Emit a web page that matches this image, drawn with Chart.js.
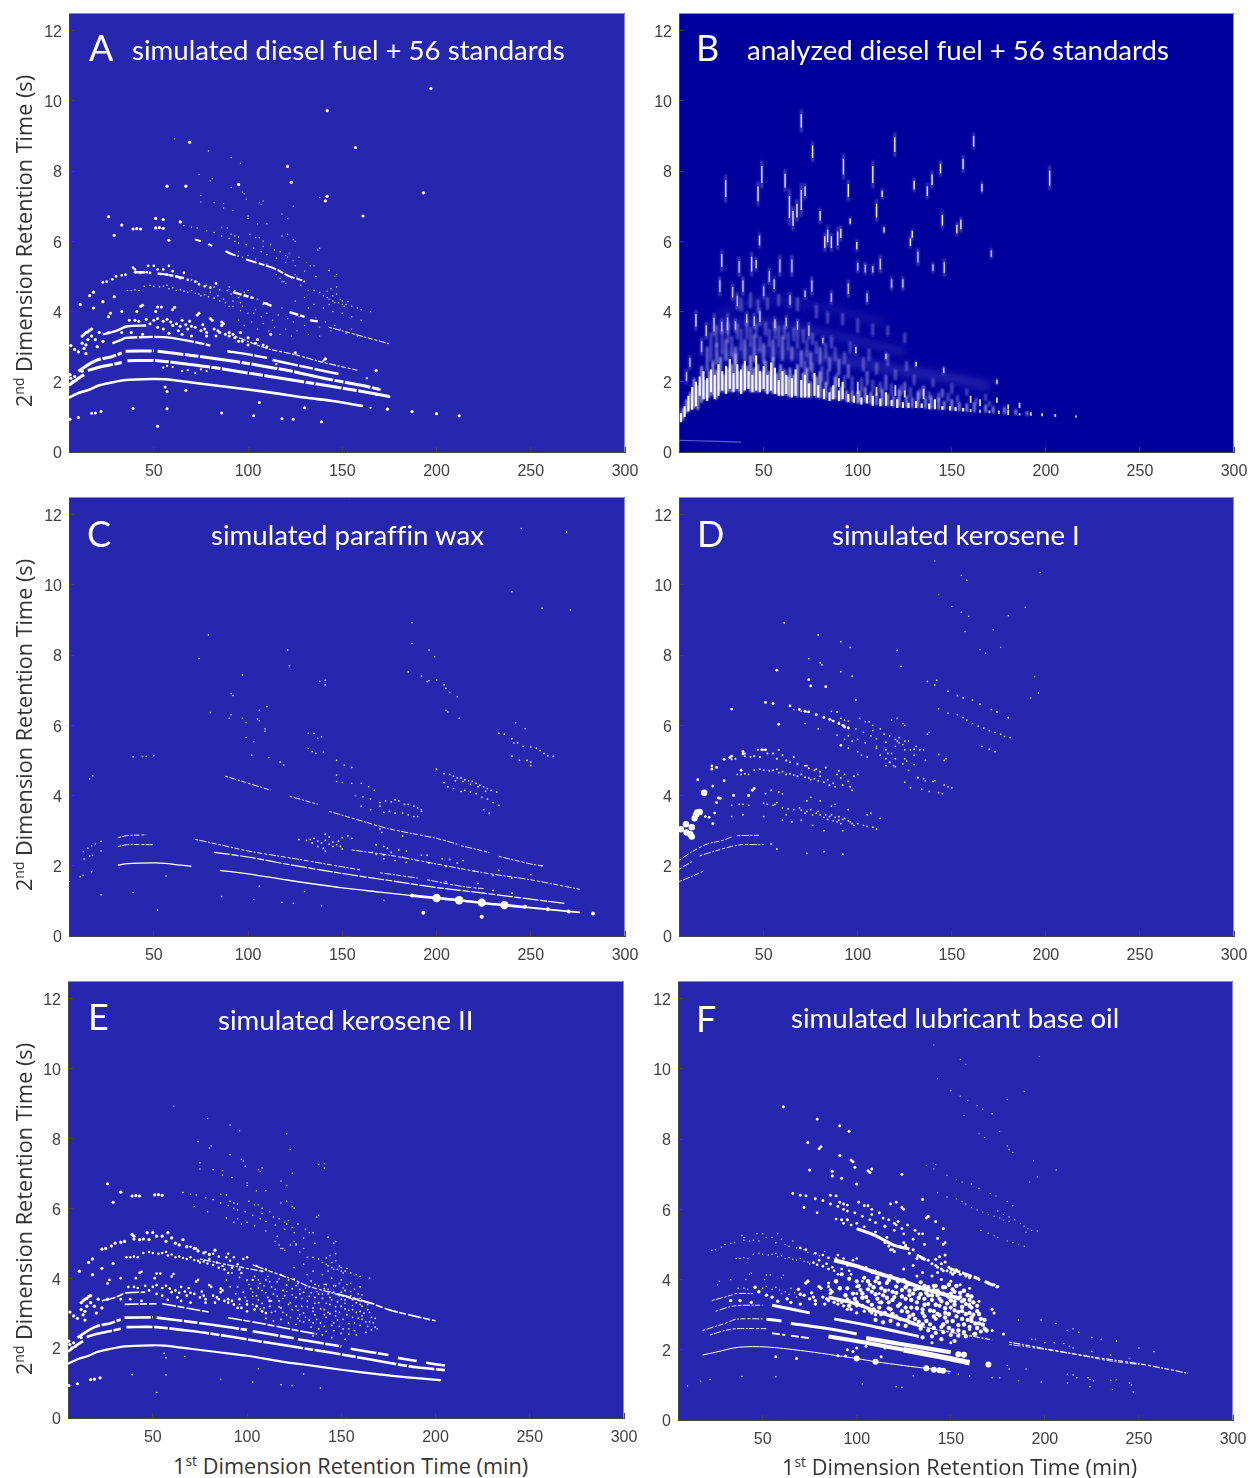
<!DOCTYPE html>
<html><head><meta charset="utf-8">
<script src="https://cdn.jsdelivr.net/npm/chart.js@4"></script>
<style>
html,body{margin:0;padding:0;background:#fff;width:1251px;height:1478px;overflow:hidden}
canvas{position:absolute}
.t{position:absolute;color:#fff;font-family:Lato,sans-serif;white-space:nowrap;line-height:1;font-variant-ligatures:none}
.ax{position:absolute;color:#333;font-family:"Open Sans",sans-serif;font-size:21.7px;white-space:nowrap;line-height:1}
.ax sup{font-size:14px;vertical-align:baseline;position:relative;top:-8px}
</style></head><body>
<script>
const xTicks=[50,100,150,200,250,300];
const yTicks=[0,2,4,6,8,10,12];
const panelLetters=["A","B","C","D","E","F"];
const panelTitles=["simulated diesel fuel + 56 standards","analyzed diesel fuel + 56 standards","simulated paraffin wax","simulated kerosene I","simulated kerosene II","simulated lubricant base oil"];
const yAxisTitle=["2","nd"," Dimension Retention Time (s)"];
const xAxisTitle=["1","st"," Dimension Retention Time (min)"];

// ---- shared point groups (x min, y s)
const sparseTop=[[61,8.92],[79,8.57],[91,8.38],[96,8.22],[74,7.9],[81,7.78],[80,7.72],[91,7.53],[97,7.4],[98,7.35],[75,7.3],[75,7.12],[99,7.2],[82,7.1],[87,7.08],[87,6.95],[92,6.88],[100,6.72],[100,6.65],[106,7.1],[108,7.15],[107,7.05],[121,8.13],[123,7.68],[124,7.0],[121,6.65],[118,6.78],[138,7.25],[141,7.28],[141,7.15],[105,6.5],[110,6.5]];
const ridge=[[66,6.45],[70,6.4],[73,6.38],[78,6.3],[82,6.25],[86,6.15],[90,6.08],[93,6.0],[95,5.95],[99,5.9],[103,5.8],[107,5.7],[110,5.62],[115,5.52],[120,5.4],[125,5.3],[130,5.15],[136,5.0],[86,6.4],[89,6.38],[91,6.2],[93,6.15],[95,6.12],[101,6.2],[104,6.1],[106,6.1],[108,6.0],[108,5.85],[112,5.9],[114,5.75],[117,5.7],[120,5.6],[121,5.55],[122,5.65],[124,5.45],[127,5.55],[118,6.15],[121,6.2],[124,6.05],[125,6.0],[131,5.4],[133,5.3],[135,5.3],[137,5.75],[138,5.8],[147,5.05],[146,5.0],[143,5.17],[95,5.7],[100,5.6],[104,5.5],[110,5.35],[116,5.2],[125,5.05],[89,5.72],[93,5.6],[97,5.55],[72,6.05],[79,5.9],[126,4.98],[119,4.85],[117,4.95],[115,5.05]];
const ridgeLow=[[118,4.85],[120,4.8],[123,4.95],[126,4.95],[130,4.85],[128,4.75],[132,4.6],[135,4.6],[138,4.55],[140,4.45],[142,4.4],[143,4.35],[145,4.3],[148,4.25],[150,4.2],[152,4.2],[155,4.15],[158,4.1],[160,4.05],[165,4.0],[147,4.7],[147,4.5],[145,4.45],[150,4.3],[135,4.2],[140,4.1],[145,4.0],[150,3.95],[155,3.85],[160,3.75],[125,4.3],[130,4.4],[132,4.1],[142,4.58],[144,4.65],[146,4.25],[149,4.35],[151,4.15],[153,4.28],[143,4.2]];
const band5=[[23,4.83],[25,4.85],[28,4.92],[30,5],[33,5.03],[35,5.05],[39,5.25],[40,5.2],[40,5.12],[43,5.1],[45,5.12],[47,5.3],[50,5.3],[48,5.1],[52,5.2],[55,5.2],[57,5.05],[60,5.15],[62,5],[66,5.1],[68,4.9],[72,4.85],[58,5.3],[64,4.95],[74,4.78],[77,4.72],[80,4.68],[83,4.8]];
const band46=[[36,4.6],[38,4.6],[40,4.62],[42,4.6],[45,4.72],[48,4.75],[50,4.72],[53,4.7],[55,4.72],[57,4.75],[58,4.65],[60,4.68],[62,4.6],[64,4.62],[66,4.58],[68,4.55],[70,4.6],[72,4.52],[74,4.5],[75,4.45],[77,4.48],[79,4.42],[80,4.55],[82,4.38],[84,4.45],[85,4.3],[87,4.35],[88,4.25],[89,4.6],[90,4.7],[91,4.5],[92,4.3],[93,4.6],[95,4.4],[96,4.25],[97,4.15],[98,4.55],[100,4.6],[73,4.85],[78,4.75],[70,4.9],[85,4.62],[82,4.7],[90,4.15],[105,4.35],[108,4.2],[110,4.25],[103,3.95]];
const cloudLow=[[26,3.85],[27,3.95],[33,4.0],[37,3.75],[40,3.75],[42,3.72],[41,4.0],[43,4.15],[44,4.18],[51,4.0],[52,4.13],[54,4.13],[60,4.05],[61,4.12],[50,3.75],[52,3.8],[55,3.72],[57,3.78],[59,3.7],[60,3.6],[62,3.65],[64,3.58],[65,3.75],[67,3.62],[68,3.5],[70,3.58],[72,3.55],[73,3.9],[74,3.95],[75,3.45],[77,3.5],[78,3.4],[80,3.8],[81,3.75],[82,3.5],[84,3.45],[85,3.4],[86,3.7],[87,3.65],[88,3.35],[90,3.3],[92,3.35],[93,3.25],[95,3.15],[97,3.15],[100,3.05],[105,3.2],[108,3.05],[110,3.0],[112,3.35],[78,3.3],[70,3.3],[65,3.35],[55,3.5],[48,3.65],[44,3.35],[38,3.4],[33,3.4],[86,3.6],[90,3.4],[83,3.3],[76,3.62],[69,3.72],[63,3.45],[58,3.38],[52,3.55],[46,3.78],[96,3.4],[100,3.25],[104,3.1]];
const cloudDense=[[92,4.15],[96,4.02],[100,3.95],[104,4.05],[107,3.85],[110,3.95],[113,3.75],[116,3.9],[118,4.1],[121,3.8],[124,3.7],[127,3.85],[130,3.6],[133,3.75],[136,3.82],[138,3.55],[141,3.7],[144,3.45],[146,3.6],[149,3.5],[152,3.38],[155,3.5],[158,3.3],[161,3.2],[164,3.1],[95,3.75],[98,3.6],[102,3.7],[105,3.5],[108,3.65],[111,3.45],[114,3.55],[117,3.35],[120,3.5],[123,3.3],[126,3.45],[129,3.2],[132,3.35],[135,3.15],[138,3.3],[141,3.1],[144,3.25],[147,3.05],[150,3.2],[153,2.95],[156,3.1],[159,2.85],[162,3.0],[165,2.75],[168,2.6],[100,3.35],[103,3.25],[106,3.38],[109,3.15],[112,3.2],[115,3.05],[118,3.15],[121,2.95],[124,3.1],[127,2.85],[130,3.0],[133,2.8],[136,2.95],[139,2.72],[142,2.88],[145,2.65],[148,2.8],[151,2.55],[154,2.7],[157,2.5],[160,2.65],[163,2.45],[166,2.52],[110,2.85],[114,2.78],[118,2.82],[122,2.72],[126,2.68],[130,2.75],[134,2.6],[138,2.55],[142,2.48],[146,2.5],[150,2.42],[154,2.4],[158,2.38],[136,3.45],[143,3.55],[150,3.6],[156,3.38],[148,3.32],[140,3.42],[128,3.55],[119,3.65],[112,3.9],[106,3.72],[134,3.92],[125,3.98],[142,3.82],[147,3.78],[152,3.65],[160,3.42],[164,3.25],[168,2.85],[160,3.05],[152,3.12],[144,2.98],[135,3.05],[126,3.2],[117,3.18],[108,3.28],[140,2.38],[135,2.35],[145,2.3],[152,2.25]];
const cloudDense2=[[101,3.82],[103,3.6],[106,3.95],[109,3.78],[111,4.05],[113,3.35],[115,3.68],[117,3.98],[119,3.42],[121,3.62],[122,3.25],[124,3.52],[126,3.78],[127,3.08],[129,3.42],[131,3.72],[132,3.18],[134,3.58],[136,3.28],[137,3.62],[138,3.78],[139,3.12],[140,3.55],[141,3.82],[142,3.28],[143,3.02],[144,3.62],[145,3.38],[146,3.78],[147,3.18],[148,3.55],[149,3.02],[150,3.4],[151,3.72],[152,3.28],[153,3.48],[154,3.08],[155,3.62],[156,3.22],[157,3.42],[158,3.02],[159,3.55],[160,3.25],[161,2.92],[162,3.35],[163,2.75],[164,2.62],[165,3.02],[166,2.88],[167,2.72],[169,2.55],[147,2.92],[141,2.62],[137,2.82],[131,2.88],[128,2.95],[123,2.88],[119,3.02],[113,3.02],[107,3.12],[103,3.48],[99,3.45],[96,3.25],[94,3.55],[91,3.75],[89,3.95],[133,3.48],[128,3.68],[122,3.95],[116,3.48],[110,3.58],[143,3.68],[149,3.85],[153,3.82],[157,3.68],[161,3.52],[156,2.88],[151,2.82],[146,2.72],[141,2.95],[135,2.72],[128,2.78],[157,2.72],[161,2.82],[154,2.55],[149,2.62]];
const leftCluster=[[6,3.03],[8,2.92],[10,2.85],[12,3.1],[14,3.05],[14,2.8],[15,3.2],[17,3.3],[17,3.5],[14,3.4],[12,3.3],[16,3.47],[11,4.2],[18,4.1],[16,4.45],[18,4.55],[23,4.28],[20,3.0],[19,3.2],[13,2.95],[5.5,2.2],[6,2.1],[26,3.4],[23,3.15],[29,4.42],[21,3.4],[15,3.42],[13,3.35],[7,2.0],[9,2.05],[8,2.15],[12,2.3]];
const lowSparse=[[5.5,.93],[10,.98],[17,1.1],[19,1.11],[22,1.15],[39,1.24],[57,1.23],[52,.73],[56,1.85],[57,1.72],[67,1.76],[86,1.11],[106,1.41],[103,1.03],[118,.95],[124,.93],[130,1.26],[139,.86]];
const tinyHigh=[[141,10.68],[155,10.27],[158,10.13],[197,10.35],[143,9.72],[150,9.38],[155,9.22],[159,9.1],[189,9.36],[180,9.12],[172,8.72],[157,8.67],[176,8.22],[165,8.15],[168,8.05],[194,7.38],[192,6.78],[196,6.92]];
const ridgeHigh=[[137,7.25],[142,7.28],[141,7.15],[148,6.97],[153,6.85],[156,6.78],[161,6.72],[165,6.6],[171,6.45],[174,6.38],[143,6.47],[148,6.35],[153,6.3],[156,6.22],[158,6.15],[161,6.05],[164,5.98],[167,5.92],[170,5.85],[173,5.8],[176,5.75],[178,5.68],[181,5.65],[166,5.4],[170,5.32],[173,5.25],[180,6.22]];

// ---- panel A
const A_L1=[[5,1.55],[10,1.68],[16,1.78],[20,1.88],[27,1.97],[35,2.05],[50,2.08],[56,2.07],[70,1.98],[85,1.88],[100,1.78],[115,1.67],[130,1.55],[145,1.45],[161,1.31]];
const A_L2=[[5,1.9],[10,2.1],[13,2.2],null,[15,2.32],[20,2.4],[27,2.48],[33,2.55],null,[36,2.6],[52,2.6],[65,2.52],[80,2.42],[100,2.25],[120,2.08],[135,1.95],[150,1.82],[165,1.68],[175,1.58]];
const A_L3=[[10,2.3],[15,2.48],[20,2.62],[28,2.72],[33,2.82],null,[35,2.87],[50,2.88],null,[52,2.87],[70,2.75],[85,2.64],[100,2.52],[115,2.38],[125,2.28],[140,2.1],[160,1.9],[170,1.78]];
const A_L4=[[28,3.1],[33,3.2],[35,3.25],[55,3.27],[70,3.15],[80,3.03],null,[89,2.87],[100,2.78],[110,2.68],null,[113,2.62],[125,2.48],[148,2.22]];
const A_L4b=[[93,3.3],[110,2.95],[125,2.77],[140,2.55],[158,2.33]];
const A_L5=[[23,3.35],[30,3.45],[36,3.58],[46,3.6]];
const A_U1=[[40,5.12],[47,5.12],null,[52,5.08],[57,5.05],[66,4.95],null,[92,4.55],[103,4.38],null,[108,4.25],[113,4.15],null,[122,3.98],[130,3.85],null,[133,3.75],[137,3.72]];
const A_U1b=[[143,3.55],[150,3.45],[175,3.08]];
const A_U0=[[99,5.48],[110,5.3],[115,5.2],[122,5.0],[128,4.9],[130,4.85],null,[72,6.05],[75,6.0],null,[79,5.92],[81,5.87],null,[88,5.72],[92,5.62],[95,5.58]];
const A_mid=[[197,10.35],[142,9.72],[69,8.82],[157,8.67],[121,8.13],[123,7.68],[95,7.62],[57,7.57],[67,7.57],[193,7.38],[142,7.28],[141,7.15],[161,6.72],[26,6.7],[51,6.65],[55,6.62],[33,6.46],[64,6.55],[29,6.17],[58,6.03],[39,6.35],[41,6.36],[43,6.35],[51,6.38],[53,6.39],[55,6.37],[168,2.32],[141,2.65],[125,2.82],[174,1.22],[187,1.15],[200,1.09],[212,1.03],[5.5,2.2]];
const A_shoulder=[[140,2.6],[163,2.1],[175,1.57],[168,1.62],[165,1.26],[170,1.78],[115,2.5],[106,2.2],[72,2.25],[78,2.3],[65,2.3],[68,2.33],[55,2.4],[60,2.42],[57,2.45],[75,2.35]];

// ---- panel B (streaks: x, y from, y to)
const B_glowOuter=[[5,.7],[15,2.4],[25,3.9],[33,4.9],[45,5.5],[60,5.7],[80,6.0],[100,5.6],[120,5.0],[140,4.4],[160,3.3],[180,2.2],[200,1.5],[215,1.05],[190,1.1],[150,1.2],[100,1.4],[50,1.6],[25,1.5],[15,1.2]];
const B_glowMid=[[5,.7],[12,1.9],[20,3.0],[40,3.9],[60,4.2],[90,3.7],[120,2.9],[150,2.2],[175,1.7],[200,1.2],[190,1.1],[150,1.2],[100,1.4],[50,1.6],[25,1.5],[15,1.2]];
const B_glowCore=[[5,.7],[10,1.5],[18,2.1],[30,2.6],[50,2.7],[75,2.55],[100,2.2],[125,1.9],[150,1.55],[175,1.3],[190,1.12],[150,1.2],[100,1.4],[50,1.6],[25,1.5],[15,1.2]];
const B_row1=[[22,3.55],[45,3.7],[65,3.55],[85,3.35],[105,3.1],[125,2.85]];
const B_row2=[[25,2.7],[50,2.9],[75,2.7],[100,2.55],[125,2.3],[150,2.1],[170,1.85]];
const B_row3=[[25,3.9],[50,4.35],[75,4.2],[95,3.95],[115,3.65]];
const B_lineLow=[[5,.33],[22,.31],[38,.28]];
const B_strip=[[208,0],[208,12.5],[224,12.5],[224,0]];
const B_thin=[[29.8,7.1,7.9],[49,7.5,8.3],[47,7,7.7],[61.4,7.4,8.05],[70,9.1,9.75],[76,8.25,8.85],[63.7,6.45,7.5],[65.6,6.3,7],[67.7,6.55,7.2],[70,6.7,7.65],[72,7.2,7.65],[92.4,7.75,8.5],[108,7.5,8.3],[119.7,8.4,9.1],[161.6,8.6,9.1],[156,7.95,8.45],[144,7.85,8.3],[139.5,7.5,8],[137,7.2,7.65],[130,7.4,7.8],[166,7.35,7.7],[202,7.45,8.15],[95,7.15,7.75],[110,6.55,7.2],[113,7.2,7.5],[80,6.5,6.95],[84,5.85,6.45],[86,5.7,6.25],[89.3,5.75,6.4],[91,6,6.45],[82.5,5.7,6.25],[96,6.45,6.7],[99.5,5.7,6.05],[114,6.2,6.45],[128,5.8,6.15],[129,6.05,6.35],[154.8,6.25,6.7],[152.7,6.15,6.55],[145,6.35,6.85],[27.7,5.15,5.75],[47.8,5.8,6.25],[43.6,5,5.7],[14,3.45,4.05],[115,2.6,2.85],[131,2.4,2.6],[145.7,2.2,2.45],[174,1.9,2.1],[99,2.75,3.05]];
const B_soft=[[171,5.5,5.8],[26.7,4.45,5],[37,5,5.55],[46,5.15,5.55],[33.5,4.3,4.8],[36,4.05,4.55],[39,4.45,5],[50,4.35,4.8],[53,4.75,5.25],[55.6,4.55,5],[58.6,5,5.6],[65,5,5.6],[64,4.1,4.55],[72,4.35,4.65],[75.6,4.45,5],[30.8,3.35,3.95],[27.7,3.35,3.8],[19.5,3.2,3.7],[17,2.75,3.25],[23.6,3.3,3.95],[9,1.95,2.35],[10.8,2.35,2.75],[45,3.5,3.95],[81.5,3.05,3.3],[100,5.1,5.45],[104,5.05,5.4],[108,5.05,5.35],[112,5.1,5.6],[118,4.6,5],[124,4.6,5],[132,5.3,5.8],[146,5,5.5],[140,5.1,5.4],[41,3.6,4],[48,3.6,4.1],[56,3.45,3.85],[62,3.5,3.9],[68,3.4,3.8],[74,3.2,3.7],[35,3.4,3.8],[86,4.2,4.6],[95,4.4,4.9],[105,4.2,4.6]];
const B_bright=[[6,.85,1.1],[8,1,1.3],[10,1.15,1.6],[12,1.2,1.85],[14,1.3,2.0],[16,1.6,2.15],[18,1.5,2.3],[20,1.45,2.1],[22,1.7,2.35],[24,1.5,2.2],[26,1.6,2.5],[28,1.75,2.3],[30,1.65,2.45],[32,1.8,2.65],[34,1.7,2.25],[36,1.8,2.5],[38,1.65,2.35],[40,1.75,2.6],[42,1.8,2.3],[44,1.7,2.2],[46,1.75,2.75],[48,1.7,2.3],[50,1.8,2.45],[52,1.65,2.2],[54,1.75,2.55],[56,1.65,2.4],[58,1.6,2.05],[60,1.6,2.3],[62,1.65,2.2],[65,1.55,2.1],[67,1.6,2.35],[70,1.55,2.05],[72,1.55,2.2],[74,1.55,1.95],[77,1.6,2.25],[79,1.55,1.9],[82,1.5,1.8],[85,1.45,1.7],[87,1.5,1.9],[90,1.45,1.75],[92,1.5,2.0],[95,1.42,1.65],[98,1.4,1.6],[102,1.35,1.55],[105,1.38,1.62],[108,1.32,1.6],[112,1.3,1.52],[115,1.32,1.7],[118,1.3,1.48],[121,1.25,1.5],[124,1.25,1.42],[127,1.25,1.4],[131,1.25,1.45],[134,1.25,1.38],[138,1.22,1.38],[141,1.22,1.5],[145,1.2,1.3],[149,1.18,1.3],[152,1.17,1.28],[156,1.15,1.25]];
const B_bright2=[[160,1.13,1.22],[165,1.12,1.2],[170,1.1,1.18],[175,1.08,1.18],[180,1.05,1.2],[186,1.04,1.1],[192,1.03,1.13],[198,1.02,1.1],[205,1.0,1.08],[216,.98,1.04],[165,1.3,1.5],[174,1.4,1.55],[160,1.4,1.6],[135,1.5,1.8],[120,1.6,1.9],[110,1.6,1.85],[125,1.55,1.75],[100,1.65,2.0],[90,1.85,2.1],[180,1.22,1.35],[186,1.25,1.4]];
const B_bright3=[[7,.9,1.25],[9,1.1,1.5],[11,1.2,1.7],[13,1.25,2.1],[15,1.2,1.9],[17,1.4,2.45],[19,1.5,2.05],[21,1.55,2.3],[23,1.6,2.6],[25,1.5,2.35],[27,1.7,2.7],[29,1.7,2.2],[31,1.7,2.4],[33,1.7,2.5],[35,1.75,2.8],[37,1.7,2.3],[39,1.7,2.5],[41,1.8,2.45],[43,1.7,2.75],[45,1.7,2.4],[47,1.7,2.5],[49,1.75,2.3],[51,1.7,2.6],[53,1.7,2.3],[55,1.65,2.7],[57,1.65,2.25],[59,1.6,2.5],[61,1.6,2.35],[63,1.6,2.15],[64,1.55,2.4],[66,1.6,2.2],[68,1.55,2.5],[71,1.55,2.25],[73,1.55,2.4],[75,1.55,2.0],[78,1.55,2.15],[80,1.52,2.3],[83,1.5,2.0],[86,1.48,1.85],[88,1.5,2.15],[91,1.46,1.85],[94,1.44,1.75],[97,1.42,1.75],[100,1.38,1.7]];
const B_bright4=[[101,1.4,1.75],[104,1.4,1.85],[107,1.35,1.7],[110,1.33,1.68],[113,1.32,1.8],[116,1.3,1.65],[119,1.28,1.6],[122,1.28,1.78],[126,1.26,1.6],[129,1.25,1.55],[132,1.25,1.72],[136,1.24,1.55],[139,1.22,1.6],[143,1.2,1.55],[146,1.2,1.45],[150,1.18,1.5],[154,1.16,1.42],[158,1.14,1.38],[162,1.13,1.42],[168,1.12,1.35],[172,1.1,1.3],[178,1.08,1.28],[184,1.05,1.22],[190,1.04,1.16]];
const B_mist=[[20,2.3,3.0],[25,2.5,3.1],[30,2.6,3.2],[35,2.5,3.0],[40,2.6,3.2],[45,2.55,3.35],[50,2.5,3.1],[55,2.6,3.2],[60,2.6,3.3],[65,2.6,3.0],[70,2.4,2.9],[75,2.3,2.85],[80,2.5,3.0],[85,2.3,2.7],[90,2.2,2.65],[95,2.1,2.5],[105,1.9,2.3],[115,1.75,2.2],[125,1.7,2.0],[135,1.6,1.9],[145,1.55,1.8]];
const B_mist2=[[22,2.6,3.4],[28,2.8,3.5],[33,2.7,3.3],[38,2.9,3.5],[43,3.0,3.55],[48,2.85,3.3],[53,3.0,3.5],[58,3.0,3.6],[63,2.9,3.4],[68,2.95,3.4],[73,2.7,3.2],[78,2.8,3.15],[83,2.65,3.1],[88,2.6,3.0],[93,2.5,2.85],[103,2.3,2.7],[110,2.2,2.55],[120,2.05,2.35],[130,1.9,2.2],[140,1.85,2.1],[150,1.65,1.95],[158,1.6,1.8],[168,1.45,1.65],[38,4.0,4.4],[43,4.1,4.55],[47,3.95,4.35],[52,4.05,4.4],[58,4.15,4.5],[68,4.0,4.4],[78,3.8,4.2],[84,3.65,4.0],[92,3.6,3.95],[100,3.4,3.8],[108,3.3,3.65],[116,3.3,3.6],[125,3.1,3.4]];
const B_mist3=[[72,2.1,2.6],[76,2.05,2.55],[81,2.0,2.45],[84,1.9,2.35],[89,1.85,2.25],[93,1.8,2.2],[97,1.75,2.15],[102,1.72,2.1],[108,1.7,2.05],[112,1.68,2.0],[118,1.62,1.95],[123,1.6,1.9],[128,1.55,1.85],[133,1.5,1.8],[138,1.48,1.72],[143,1.45,1.7],[148,1.42,1.68],[153,1.4,1.62],[163,1.35,1.55],[170,1.3,1.45],[25,3.0,3.6],[31,3.1,3.7],[36,3.2,3.65],[41,3.2,3.75],[46,3.25,3.65],[51,3.3,3.7],[56,3.2,3.7],[61,3.2,3.6],[66,3.15,3.55],[71,3.1,3.5],[76,3.05,3.4],[86,2.95,3.3],[96,2.8,3.15],[106,2.6,2.95],[116,2.45,2.8],[126,2.3,2.6]];

// ---- panel C
const C_L1a=[[31,2.02],[36,2.06],[50,2.08],[56,2.07],[70,1.98]];
const C_L1b=[[85,1.87],[100,1.77],[120,1.6],[135,1.48],[150,1.37],[170,1.25],[187,1.15]];
const C_L1c=[[187,1.15],[200,1.08],[212,1.02],[224,.94],[236,.88],[247,.82]];
const C_L1d=[[247,.82],[259,.76],[270,.7],[276,.67]];
const C_L2=[[82,2.38],[100,2.25],[120,2.05],[150,1.78],[175,1.58],[200,1.38],[225,1.22],[250,1.05],[268,.93]];
const C_L3=[[72,2.75],[85,2.6],[100,2.42],[125,2.2],[150,1.97],[160,1.88],null,[170,1.8],[190,1.65],null,[195,1.6],[215,1.4],[225,1.35]];
const C_U2=[[155,2.45],[175,2.3],[200,2.05],[225,1.8],[250,1.6],[276,1.33]];
const C_U1=[[88,4.55],[100,4.35],[112,4.15],null,[122,3.98],[137,3.75],null,[143,3.55],[160,3.28],[175,3.05],[200,2.78],[212,2.6],null,[213,2.57],[228,2.38],null,[233,2.27],[250,2.05],[256,2.0]];
const C_shortLeft=[[31,2.8],[36,2.86],[46,2.88],null,[31,2.55],[36,2.6],[50,2.6]];
const C_sparse=[[245,11.6],[269,11.5],[240,9.8],[256,9.33],[271,9.28],[187,8.92],[79,8.57],[74,7.9],[121,8.14],[122,7.7],[97,7.43],[187,8.33],[196,8.14],[199,7.95],[185,7.52],[192,7.4],[195,7.24],[196,7.27],[200,7.29],[204,7.15],[205,7.05],[207,6.94],[211,6.81],[205,6.43],[206,6.38],[212,6.2],[242,6.07],[247,5.9],[91,6.9],[92,6.85],[91,6.3],[90,6.2],[97,6.2],[99,6.08],[106,6.43],[110,6.53],[105,6.18],[106,6.13],[109,5.9],[109,5.83],[80,6.36],[99,5.65],[103,5.53],[102,5.15],[111,5.08],[117,4.95],[119,4.87],[132,5.77],[135,5.77],[137,5.63],[139,5.67],[132,5.34],[134,5.25],[136,5.2],[140,5.23],[138,7.25],[141,7.28],[141,7.15],[147,5.0],[151,4.87],[155,4.8],[147,4.58],[147,4.4],[150,4.37],[155,4.35],[160,4.35],[164,4.25],[167,4.15],[157,4.0],[161,3.96],[165,3.9],[39,5.1],[44,5.11],[46,5.12],[50,5.13],[17.6,4.56],[16,4.47],[12.6,2.4],[15,2.5],[17,2.57],[19,2.62],[22,2.7],[13,2.19],[16,2.28],[17.5,2.3],[22,2.42],[17,1.83],[11,1.69],[12.5,1.73],[5,1.55],[22,1.17],[39,1.24],[52,.74],[56.5,1.71],[86,1.12],[106,1.42],[103,1.04],[118,.96],[124,.93],[130,1.26],[139,.86],[172,1.02]];
const C_cluster=[[200,4.75],[204,4.62],[207,4.6],[209,4.55],[211,4.5],[213,4.5],[215,4.45],[217,4.42],[219,4.4],[221,4.35],[223,4.3],[225,4.25],[227,4.2],[229,4.15],[232,4.1],[210,4.42],[214,4.4],[218,4.32],[222,4.25],[226,4.12],[204,4.37],[206,4.25],[209,4.2],[213,4.12],[215,4.15],[218,4.1],[221,4.05],[224,3.95],[227,3.9],[230,3.8],[233,3.72],[225,3.6],[228,3.5],[233,5.77],[236,5.75],[240,5.62],[241,5.5],[243,5.5],[246,5.4],[250,5.38],[253,5.35],[255,5.28],[257,5.2],[259,5.13],[262,5.12],[240,5.12],[244,5.0],[248,5.0],[250,4.95],[250,4.85],[170,3.8],[173,3.85],[176,3.82],[178,3.88],[180,3.85],[183,3.75],[185,3.75],[188,3.7],[190,3.65],[192,3.6],[192,3.55],[175,3.55],[178,3.5],[182,3.5],[185,3.45],[188,3.4],[165,3.6],[160,3.7],[170,3.7],[172,3.52],[190,3.4],[127,2.75],[131,2.72],[133,2.75],[135,2.78],[137,2.7],[139,2.65],[141,2.72],[143,2.62],[145,2.68],[147,2.6],[149,2.55],[150,2.48],[134,2.65],[137,2.55],[140,2.5],[141,2.42],[145,2.55],[148,2.7],[150,2.8],[153,2.85],[155,2.78],[141,2.9],[143,2.82],[168,2.6],[172,2.55],[174,2.5],[180,2.45],[184,2.42],[192,2.3],[195,2.3],[203,2.2],[207,2.18],[211,2.08],[214,2.15],[233,1.87],[250,1.75],[256,2.0],[172,2.2],[178,2.15],[184,2.1],[172,2.3],[166,2.38],[168,2.32],[176,2.38],[182,2.25],[190,2.15],[196,2.08],[205,1.98],[212,1.92],[220,1.85],[230,1.72],[240,1.65],[170,3.05],[171,2.95],[182,2.85],[205,1.55],[222,1.5],[230,1.3],[240,1.22]];
const C_big=[[200,1.08],[212,1.02],[224,.95],[236,.88]];
const C_medium=[[247,.83],[193,.66],[224,.55],[283,.64],[187,1.15],[259,.76],[270,.7]];

// ---- panel D
const D_lines=[[5,1.55],[12,1.7],[18,1.85],null,[5,1.9],[12,2.12],null,[16,2.28],[24,2.42],[33,2.55],[38,2.6],[50,2.6],null,[5,2.15],[12,2.4],[20,2.62],[28,2.72],[33,2.82],null,[36,2.86],[48,2.87]];
const D_big=[[6,3.04],[8.7,3.18],[11.8,3.1],[9,2.95],[11,2.9],[11.8,2.83],[13.3,3.35],[14,3.45],[14.7,3.52],[16,3.53],[18.4,4.08]];
const D_mid=[[22.5,4.84],[22.5,4.75],[25,4.8],[29,5.03],[32,5.08],[33,5.12],[23,4.27],[29,4.42],[25,3.8],[27,3.92],[26,3.93],[15,4.45],[23,3.2],[19,3.4],[21,3.38],[24,3.5],[33,6.46],[51,6.65],[55,6.62],[64,6.55],[57,7.57],[58,6.03],[69,6.45],[72,6.4],[74,6.38],[78,6.3],[82,6.22],[85,6.17],[87,6.12],[90,6.05],[92,6.0],[93,5.95],[95,5.92],[74,7.3],[75,7.12],[83,7.1],[39,5.25],[39,5.18],[38,4.72],[49,5.3],[51,5.3],[91,5.43],[45,4.2],[44,4.15],[42,4.0],[34,4.0]];
const D_small=[[180,6.22],[91,7.53],[97,7.4],[80,7.78],[81,7.72],[61,8.92],[79,8.57],[91,8.38],[96,8.22],[74,7.9],[121,8.13],[123,7.68],[99,6.72],[33,3.72],[37,3.75],[39,3.75],[42,3.72],[33,3.4],[39,3.45],[50,3.78],[52,3.75],[55,3.72],[57,3.8],[60,3.65],[63,3.62],[66,3.6],[70,3.58],[73,3.55],[75,3.6],[78,3.5],[80,3.45],[83,3.45],[85,3.4],[88,3.38],[90,3.3],[92,3.32],[95,3.28],[97,3.2],[100,3.2],[103,3.15],[105,3.12],[108,3.1],[110,3.05],[112,3.35],[105,3.45],[107,3.5],[92,3.0],[82,3.0],[73,2.35],[82,2.4],[92,2.33],[57,2.48],[54,2.62],[50,3.4],[60,3.3],[65,3.25],[70,3.3],[76,3.15],[56,3.75],[62,3.45],[73,3.85],[75,3.95],[86,3.7],[88,3.75],[95,3.6],[80,3.85],[58,4.1],[60,4.05],[51,4.05],[54,4.15],[86,3.45],[90,3.4],[93,3.35],[96,3.25],[98,3.15],[69,3.65],[72,3.5],[76,3.45],[79,3.55],[82,3.38],[84,3.32],[87,3.28],[89,3.25],[91,3.2]];
const D_ridge2=[[115,4.85],[117,4.95],[120,4.82],[124,4.9],[127,4.72],[130,4.88],[125,4.38],[128,4.22],[132,4.52],[134,4.18],[136,4.42],[138,4.12],[140,4.4],[143,4.08],[146,4.3],[148,4.25],[150,4.22],[145,4.05],[105,5.1],[110,5.4],[112,5.15],[100,5.25],[102,5.15],[120,5.05],[95,5.35],[115,5.3],[118,5.2],[122,5.5],[125,5.55],[128,5.3],[130,5.32],[132,4.5],[135,4.48],[141,4.42]];

// ---- panel E
const E_L1=[[5,1.55],[10,1.68],[16,1.78],[20,1.88],[27,1.97],[35,2.05],[50,2.08],[56,2.07],[70,1.98],[85,1.88],[100,1.78],[120,1.6],[130,1.53],[150,1.38],[170,1.25],[185,1.16],[203,1.08]];
const E_L2=[[5,1.9],[10,2.1],[13,2.2],null,[15,2.32],[20,2.4],[27,2.48],[33,2.55],null,[36,2.6],[52,2.6],[65,2.52],[80,2.42],[100,2.25],[120,2.08],[135,1.95],[150,1.82],[175,1.58],[190,1.45],[205,1.37]];
const E_L3=[[10,2.3],[15,2.48],[20,2.62],[28,2.72],[33,2.82],null,[35,2.87],[50,2.88],null,[52,2.87],[70,2.75],[85,2.64],[100,2.52],null,[103,2.48],[125,2.28],null,[127,2.25],[150,2.05],null,[155,1.98],[175,1.8],null,[180,1.72],[190,1.63],null,[195,1.58],[205,1.5]];
const E_L4=[[23,3.35],[30,3.45],[36,3.58],[46,3.6],null,[35,3.25],[52,3.27],null,[55,3.27],[80,3.03],null,[90,2.87],[110,2.68],[127,2.5],[137,2.4],null,[148,3.55],[165,3.3],[175,3.1],[190,2.9],[200,2.78]];
const E_U1=[[103,4.38],[113,4.18],[125,3.95],[132,3.78],[145,3.58],[155,3.42],[165,3.28]];
const E_U1b=[[75,4.55],[88,4.4],[108,4.2]];
const E_mid=[[26,6.7],[33,6.46],[29,6.17],[39,6.35],[41,6.36],[43,6.35],[51,6.38],[53,6.39],[55,6.37],[5.5,.93],[10,.98],[17,1.1],[19,1.11],[22,1.15]];

// ---- panel F
const F_L1=[[18,1.85],[25,1.93],[37,2.07],[52,2.08],[70,1.98],[85,1.87],[100,1.75],[110,1.66],[125,1.55],[140,1.45],[150,1.38]];
const F_L2a=[[22,2.42],[30,2.55],[36,2.6],[52,2.6]];
const F_L2x=[[55,2.47],[62,2.42],null,[65,2.4],[75,2.33]];
const F_L2b=[[85,2.38],[105,2.2],[125,2.0]];
const F_L2c=[[125,2.0],[145,1.8],[160,1.63]];
const F_L3a=[[18,2.55],[30,2.75],[36,2.87],[50,2.88]];
const F_L3b=[[52,2.87],[60,2.82],null,[65,2.75],[85,2.6],[100,2.45]];
const F_L3c=[[105,2.33],[125,2.15],[150,1.93]];
const F_L4=[[55,3.27],[75,3.05],null,[88,2.88],[110,2.65],[133,2.38]];
const F_L4a=[[25,3.1],[35,3.25],[50,3.27],null,[23,3.4],[33,3.55],[36,3.6],[45,3.6]];
const F_L5=[[85,3.5],[100,3.3],[110,3.1],[125,2.85],[135,2.65]];
const F_U1=[[88,4.55],[100,4.38],[110,4.2],[125,3.95],[135,3.75],[145,3.6],[155,3.45]];
const F_U2=[[132,4.7],[137,4.55],null,[150,4.3],[165,4.02],null,[168,3.95],[175,3.78]];
const F_U0=[[100,5.45],[110,5.25],[120,4.97],[128,4.87]];
const F_long=[[135,2.65],[150,2.5],[165,2.35],[172,2.28],null,[181,2.22],[200,2.03],[225,1.8],[250,1.6],[265,1.45],[276,1.33]];
const F_long2=[[181,2.15],[195,2.05],[215,1.88],[235,1.68],[250,1.58]];
const F_big=[[170,1.58],[154,1.87],[157,1.86],[137,1.47],[141,1.43],[144,1.42],[146,1.4],[100,1.75],[110,1.66]];
const F_mid=[[61,8.92],[79,8.57],[91,8.38],[96,8.22],[74,7.9],[81,7.78],[80,7.72],[91,7.53],[97,7.4],[98,7.35],[75,7.12],[99,7.2],[87,7.08],[87,6.95],[92,6.88],[100,6.72],[106,7.1],[108,7.15],[107,7.05],[124,7.0],[135,6.28],[138,5.8],[142,5.65],[146,5.45],[68,1.75],[90,1.83],[94,1.82],[57,1.8],[95,2.0],[98,1.95],[100,2.05],[105,2.1],[115,2.05],[113,1.8],[130,2.1],[140,2.2],[150,2.2],[115,5.52],[95,5.7],[92,5.7],[85,3.8],[85,3.9],[100,3.8],[100,3.6],[95,3.45],[117,3.7],[112,3.6],[170,3.9],[173,3.85],[175,3.8],[165,3.38],[160,3.3],[172,3.15],[173,3.05],[165,2.75],[160,2.58],[172,2.55],[178,2.45],[162,2.45]];
const F_right=[[186,2.85],[198,2.85],[206,2.75],[212,2.55],[215,2.6],[218,2.5],[225,2.35],[230,2.3],[238,2.25],[193,2.3],[195,2.3],[200,2.2],[205,2.2],[210,2.18],[213,2.1],[215,2.05],[225,1.95],[235,1.85],[245,1.75],[250,2.05],[258,1.95],[180,1.55],[181,1.45],[190,1.45],[176,1.2],[186,1.12],[198,1.08],[212,1.3],[215,1.28],[217,1.2],[212,1.05],[223,1.2],[224,1.15],[226,1.12],[224,.95],[235,1.13],[238,1.15],[236,.87],[245,1.05],[246,1.0],[247,.8],[10,.97],[17,1.1],[22,1.15],[39,1.24],[57,1.23],[103,1.03],[121,.95],[124,.93],[130,1.26],[149,1.33],[154,1.3],[160,1.25],[172,1.2]];
const F_ridgeHigh2=[[164,8.95],[167,8.85],[172,8.72],[180,7.8],[181,7.7],[183,7.62],[206,7.12],[183,6.1],[175,5.95],[178,5.85],[181,5.78],[184,5.7],[187,5.6],[189,5.52],[191,5.45],[193,5.4],[196,5.38],[190,5.35],[180,5.1],[183,5.05],[186,5.0],[189,4.95],[175,5.2]];

// ---- drawing helpers
const PANEL="#2626ae", PANELB="#00009c";
const toXY=a=>a.map(p=>p?{x:p[0],y:p[1]}:{x:NaN,y:NaN});
const line=(a,w,c,extra)=>Object.assign({type:"scatter",showLine:true,data:toXY(a),borderColor:c||"#fff",borderWidth:w,pointRadius:0,spanGaps:false,tension:.3,borderCapStyle:"butt",borderJoinStyle:"round"},extra||{});
const dash=(a,w,pat,c)=>line(a,w,c,{borderDash:pat});
const dots=(a,r,c)=>({type:"scatter",data:toXY(a),pointRadius:r,pointBorderWidth:0,pointBackgroundColor:c||"#fff",showLine:false});
const streaks=(a,w,c,blur,trim)=>{const t=trim||0,o=[];a.forEach(s=>{const d=(s[2]-s[1])*t;o.push([s[0],s[1]+d],[s[0],s[2]-d],null)});return line(o,w,c,{blur:blur,tension:0});};
const poly=(a,c,blur)=>line(a.concat([a[0]]),0,"rgba(0,0,0,0)",{fill:true,backgroundColor:c,blur:blur,tension:0});
const FRAG=[26,1.5,14,1.5,40,1.5,9,1.5];
const FINE=[3,1.5,7,1.5,2,1.5,5,2];

const sets=[
 [ // A
  dots(sparseTop,.7,"#c8c8ff"),dots(ridge,.7,"#d8d8ff"),dots(ridgeLow,.7,"#d8d8ff"),dots(band46,.8,"#e8e8ff"),dots(cloudDense.slice(0,45).filter(p=>p[1]>3.25),.7,"#c8c8ff"),
  dots(band5,1.3),dots(cloudLow,1.5),dots(leftCluster,1.6),dots(lowSparse,1.5),dots(A_mid,1.6),dots(A_shoulder,1.1),
  line(A_L1,2.6),dash(A_L2,3,FRAG),dash(A_L3,3,FRAG),dash(A_L4,2.4,FRAG),dash(A_L4b,1.1,FINE),line(A_L5,2.4),dash(A_U1,2.4,[9,2,5,2,14,2]),dash(A_U1b,1,FINE),dash(A_U0,2,[11,2,6,1.5])
 ],
 [ // B
  poly(B_strip,"#0a0aa2",0),
  poly(B_glowOuter,"rgba(90,90,235,.2)",6),poly(B_glowMid,"rgba(120,120,240,.28)",6),poly(B_glowCore,"rgba(170,170,255,.45)",4),
  line(B_row3,6,"rgba(170,170,255,.14)",{blur:4}),line(B_row1,6,"rgba(180,180,255,.2)",{blur:4}),line(B_row2,7,"rgba(190,190,255,.24)",{blur:4}),
  line(B_lineLow,1.2,"rgba(130,130,230,.7)",{blur:.5}),
  streaks(B_mist2,2.8,"rgba(215,215,255,.36)",1.3),streaks(B_mist3,2.8,"rgba(220,220,255,.36)",1.3),streaks(B_mist,2.6,"rgba(225,225,255,.5)",1),streaks(B_soft,2.2,"rgba(225,225,255,.4)",1),streaks(B_soft,1.4,"rgba(240,240,255,.75)",.6,.2),
  streaks(B_thin,1.6,"rgba(235,235,255,.45)",.9),streaks(B_thin,1.3,"rgba(255,255,255,.95)",.5,.2),
  streaks(B_bright3,2.2,"rgba(255,255,255,.7)",.8),streaks(B_bright4,2,"rgba(255,255,255,.7)",.8),streaks(B_bright2,1.8,"rgba(255,255,255,.85)",.6),streaks(B_bright,2.2,"rgba(255,255,255,.95)",.6)
 ],
 [ // C
  dots(C_sparse,.8,"#e0e0ff"),dots(C_cluster,.85,"#eeeeff"),
  dash(C_U1,1,FINE,"#e8e8ff"),dash(C_U2,1,FINE,"#e8e8ff"),dash(C_L3,1,FINE,"#e8e8ff"),dash(C_L2,1.2,[16,1.5,7,1.5]),dash(C_shortLeft,1,FINE,"#e8e8ff"),
  line(C_L1a,1.2),line(C_L1b,1.4),line(C_L1c,2.6),line(C_L1d,1.8),
  dots(C_big,4.2),dots(C_medium,2)
 ],
 [ // D
  dots(tinyHigh,.7,"#d0d0ff"),dots(ridgeHigh,.85,"#e0e0ff"),dots(ridge,.85,"#e8e8ff"),dots(D_ridge2,.85,"#e0e0ff"),dots(band5.slice(4),1),dots(band46.slice(0,40),.9,"#eeeeff"),
  dots(D_small,.9,"#e8e8ff"),dots(D_mid,1.4),dots(D_big,3.2),dash(D_lines,1,FINE,"#dcdcff")
 ],
 [ // E
  dots(sparseTop,.75,"#e0e0ff"),dots(ridge,.8,"#e8e8ff"),dots(ridgeLow,.8,"#e8e8ff"),dots(cloudDense,.85),dots(cloudDense2,.8,"#f0f0ff"),
  dots(band5,1.6),dots(band46,1.2),dots(cloudLow,1.3),dots(leftCluster,1.6),dots(lowSparse.slice(5),.8),dots(E_mid,1.6),
  line(E_L1,2.2),dash(E_L2,2.6,FRAG),dash(E_L3,2.6,FRAG),dash(E_L4,1.6,[14,1.5,7,2]),dash(E_U1,1.2,FINE),dash(E_U1b,1.2,FINE)
 ],
 [ // F
  dots(tinyHigh,.6,"#c8c8ff"),dots(ridgeHigh,.7,"#c8c8ff"),dots(F_ridgeHigh2,.7,"#c8c8ff"),dots(band5,.75,"#d8d8ff"),dots(cloudLow.slice(0,25),.75,"#d8d8ff"),
  dots(F_right,.75,"#e0e0ff"),
  dots(ridge,1.4),dots(ridgeLow,1.5),dots(band46.slice(20),1.3),dots(band46.slice(0,20),.75,"#e0e0ff"),dots(cloudLow.slice(25),1.7),dots(cloudDense,2.1),dots(cloudDense2,2.2),dots(F_mid,1.5),
  dash(F_long,1.2,FINE,"#f0f0ff"),dash(F_long2,.9,FINE,"#e0e0ff"),
  line(F_L1,1),dash(F_L2a,.9,FINE),dash(F_L3a,.9,FINE),dash(F_L4a,.9,FINE),dash(F_L2x,1.8,[8,2]),
  line(F_L2b,4),line(F_L2c,5.4),line(F_L3b,3),line(F_L3c,4.2),line(F_L4,3),line(F_L5,3.4),line(F_U1,4),dash(F_U2,3,[10,2]),line(F_U0,3),
  dots(F_big,3)
 ]
];
// plot rectangles: left, top, width, height
const boxes=[[69,13,556,439],[679,13,555,439],[69,497,556,439],[679,497,555,439],[68,981,556,437],[678,981,555,439]];
const titlePos=[[132,50,27.6],[747,50,27.6],[211,535,27.6],[832,535,27.6],[218,1020,27.6],[791,1018,27.6]];
const letterPos=[[89,47,36],[696,47,36],[87,533,36],[697,533,36],[88,1016,36],[696,1018,36]];

const framePlugin={id:"frame",
 beforeDraw(c,a,o){const r=c.chartArea,g=c.ctx;g.save();g.fillStyle=o.bg;g.fillRect(r.left,r.top,r.right-r.left,r.bottom-r.top);g.restore();},
 beforeDatasetDraw(c,a){const b=c.data.datasets[a.index].blur;c.ctx.save();if(b)c.ctx.filter="blur("+b+"px)";},
 afterDatasetDraw(c){c.ctx.restore();},
 afterDraw(c){const r=c.chartArea,g=c.ctx;g.save();g.strokeStyle="#8a8ad0";g.lineWidth=1;g.beginPath();g.moveTo(r.left,r.top+.5);g.lineTo(r.right-.5,r.top+.5);g.lineTo(r.right-.5,r.bottom);g.stroke();g.restore();}
};
const LPAD=52,TPAD=12,RPAD=22,BPAD=30;
const noPad=s=>{s.paddingTop=0;s.paddingBottom=0;s.paddingLeft=0;s.paddingRight=0;};
boxes.forEach((b,i)=>{
 const cv=document.createElement("canvas");
 const W=b[2]+LPAD+RPAD,H=b[3]+TPAD+BPAD;
 cv.style.left=(b[0]-LPAD)+"px";cv.style.top=(b[1]-TPAD)+"px";cv.style.width=W+"px";cv.style.height=H+"px";cv.width=W;cv.height=H;
 document.body.appendChild(cv);
 const tickFont={family:'"Liberation Sans",Arial,sans-serif',size:16};
 new Chart(cv,{type:"scatter",data:{datasets:sets[i]},plugins:[framePlugin],options:{
  responsive:false,animation:false,events:[],
  layout:{padding:{left:0,top:TPAD,right:RPAD,bottom:0}},
  plugins:{legend:{display:false},tooltip:{enabled:false},frame:{bg:i==1?PANELB:PANEL}},
  scales:{
   x:{type:"linear",min:5,max:300,afterBuildTicks:s=>{s.ticks=xTicks.map(v=>({value:v}))},afterFit:s=>{s.height=BPAD;noPad(s)},
      grid:{drawOnChartArea:false,drawTicks:true,tickLength:-5,color:"#444"},border:{color:"#444",width:1},
      ticks:{color:"#404040",font:tickFont,padding:15,maxRotation:0,autoSkip:false}},
   y:{type:"linear",min:0,max:12.5,afterBuildTicks:s=>{s.ticks=yTicks.map(v=>({value:v}))},afterFit:s=>{s.width=LPAD;noPad(s)},
      grid:{drawOnChartArea:false,drawTicks:true,tickLength:-5,color:"#444"},border:{color:"#444",width:1},
      ticks:{color:"#404040",font:tickFont,padding:12,autoSkip:false,labelOffset:2}}
  }}});
 const lab=document.createElement("div");lab.className="t";lab.textContent=panelLetters[i];
 lab.style.cssText="left:"+letterPos[i][0]+"px;top:"+(letterPos[i][1]-letterPos[i][2]/2)+"px;font-size:"+letterPos[i][2]+"px";
 document.body.appendChild(lab);
 const tt=document.createElement("div");tt.className="t";tt.textContent=panelTitles[i];
 tt.style.cssText="left:"+titlePos[i][0]+"px;top:"+(titlePos[i][1]-titlePos[i][2]/2)+"px;font-size:"+titlePos[i][2]+"px";
 document.body.appendChild(tt);
});
function axisText(parts,css){const d=document.createElement("div");d.className="ax";d.style.cssText=css;
 d.append(parts[0]);const s=document.createElement("sup");s.textContent=parts[1];d.append(s);d.append(parts[2]);document.body.appendChild(d);return d;}
[241,725,1209].forEach(cy=>axisText(yAxisTitle,"left:24px;top:"+cy+"px;transform:translate(-50%,-50%) rotate(-90deg)"));
axisText(xAxisTitle,"left:173px;top:1455px");
axisText(xAxisTitle,"left:782px;top:1456px");
</script>
</body></html>
